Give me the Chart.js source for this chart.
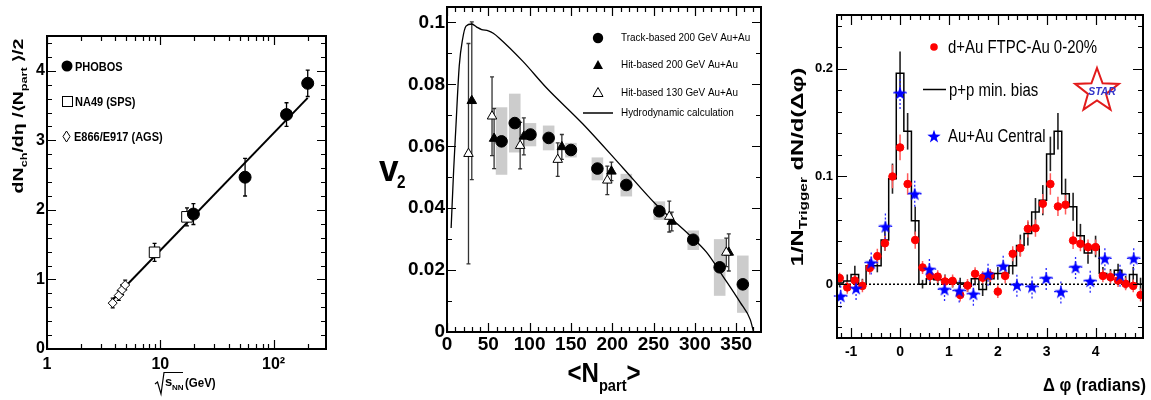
<!DOCTYPE html>
<html>
<head>
<meta charset="utf-8">
<title>Multiplicity, v2 and azimuthal correlations</title>
<script src="https://cdn.jsdelivr.net/npm/chart.js@4.4.1/dist/chart.umd.min.js"></script>
<style>
    html, body { margin: 0; padding: 0; background: #fff; }
    #page { position: relative; width: 1151px; height: 400px; overflow: hidden; }
    canvas { position: absolute; top: 0; }
</style>
</head>
<body>
<div id="page">
    <canvas id="c1" width="340" height="400" style="left:0px"></canvas>
    <canvas id="c2" width="410" height="400" style="left:370px"></canvas>
    <canvas id="c3" width="371" height="400" style="left:780px"></canvas>
</div>
<script>
// === Panel 1: dNch/deta per participant pair vs sqrt(sNN) ===
const phobosEnergy = [19.6, 56, 130, 200];
const phobosValue = [1.94, 2.47, 3.37, 3.82];
const phobosErr = [0.15, 0.27, 0.17, 0.19];
const na49Energy = [8.9, 17.2];
const na49Value = [1.39, 1.90];
const na49Err = [0.13, 0.13];
const agsEnergy = [3.8, 4.3, 4.6, 4.9];
const agsValue = [0.66, 0.77, 0.85, 0.92];
const agsErr = [0.07, 0.07, 0.07, 0.07];
const fitEnergy = [3.7, 200];
const fitValue = [0.69, 3.61];

// === Panel 2: v2 vs <Npart> ===
const trackNpart = [66, 82, 101, 123, 150, 182, 217, 257, 298, 330, 358];
const trackV2 = [0.0616, 0.0675, 0.0638, 0.0627, 0.0588, 0.0528, 0.0475, 0.039, 0.0298, 0.0209, 0.0154];
const trackSysLo = [0.0508, 0.058, 0.060, 0.0587, 0.0564, 0.049, 0.0438, 0.0362, 0.0265, 0.0117, 0.0062];
const trackSysHi = [0.0726, 0.077, 0.0675, 0.0667, 0.0611, 0.0564, 0.0511, 0.0422, 0.0328, 0.030, 0.0247];
const hit200Npart = [30, 57, 93, 139, 199, 272, 341];
const hit200V2 = [0.0747, 0.0625, 0.0632, 0.0598, 0.0519, 0.0357, 0.0257];
const hit200Err = [0.0255, 0.0097, 0.006, 0.004, 0.003, 0.003, 0.006];
const hit130Npart = [26, 54.5, 88.5, 134, 194, 269, 338];
const hit130V2 = [0.0576, 0.0697, 0.0602, 0.0557, 0.049, 0.0373, 0.0257];
const hit130Err = [0.0356, 0.0127, 0.0075, 0.0054, 0.0046, 0.005, 0.0046];
const hydroNpart = [5, 8, 10.6, 14.8, 18.8, 23, 30, 36, 42, 50, 56, 63, 91.6, 120, 164.5, 213, 253, 294, 314, 334, 355, 367, 371];
const hydroV2 = [0.0336, 0.052, 0.0654, 0.0859, 0.0945, 0.0988, 0.0995, 0.0985, 0.0977, 0.0973, 0.0965, 0.095, 0.0875, 0.079, 0.0672, 0.053, 0.0412, 0.0312, 0.0258, 0.018, 0.0095, 0.004, 0];

// === Panel 3: azimuthal correlations ===
const dphiBins = [-1.235, -1.08, -0.925, -0.77, -0.62, -0.465, -0.31, -0.155, 0, 0.155, 0.31, 0.46, 0.615, 0.77,
    0.92, 1.075, 1.23, 1.38, 1.535, 1.69, 1.845, 2.0, 2.15, 2.305, 2.46, 2.615, 2.77, 2.92, 3.075, 3.23, 3.385,
    3.54, 3.69, 3.845, 4.0, 4.15, 4.305, 4.46, 4.615, 4.77, 4.92];
const dAuYield = [0.0056, -0.003, 0.0034, -0.0016, 0.015, 0.026, 0.038, 0.100, 0.127, 0.093, 0.041, 0.0155, 0.0077,
    0.007, 0.0025, 0.003, -0.010, -0.0013, 0.0096, 0.006, 0.008, -0.0069, 0.0077, 0.0282, 0.0335, 0.0514, 0.052,
    0.0747, 0.093, 0.0722, 0.0738, 0.0406, 0.0375, 0.0344, 0.0344, 0.0077, 0.0065, 0.0034, 0.0003, -0.0016, -0.010];
const dAuErr = [0.005, 0.006, 0.006, 0.006, 0.006, 0.007, 0.007, 0.011, 0.012, 0.010, 0.008, 0.006, 0.006, 0.006,
    0.006, 0.006, 0.006, 0.006, 0.006, 0.006, 0.006, 0.006, 0.007, 0.007, 0.008, 0.008, 0.008, 0.009, 0.010, 0.009,
    0.009, 0.008, 0.007, 0.007, 0.007, 0.006, 0.006, 0.006, 0.006, 0.006, 0.006];
const ppYield = [0.001, 0.003, 0.009, 0.0, 0.017, 0.017, 0.041, 0.098, 0.196, 0.142, 0.059, 0.0, 0.005, 0.004,
    0.004, 0.002, 0.001, -0.002, 0.005, -0.005, 0.005, 0.010, 0.010, 0.017, 0.036, 0.047, 0.067, 0.078, 0.121,
    0.142, 0.084, 0.072, 0.045, 0.029, 0.035, 0.010, 0.008, 0.013, 0.0015, 0.009, 0.0];
const ppErr = [0.004, 0.006, 0.008, 0.005, 0.006, 0.006, 0.010, 0.014, 0.020, 0.017, 0.013, 0.004, 0.005, 0.005,
    0.005, 0.005, 0.005, 0.005, 0.006, 0.006, 0.006, 0.006, 0.006, 0.008, 0.010, 0.011, 0.013, 0.014, 0.016,
    0.017, 0.014, 0.013, 0.011, 0.010, 0.010, 0.006, 0.006, 0.006, 0.006, 0.007, 0.006];
const dphiStar = [-1.215, -0.9, -0.59, -0.30, 0, 0.30, 0.60, 0.91, 1.21, 1.50, 1.80, 2.11, 2.39, 2.70, 2.99, 3.29,
    3.59, 3.89, 4.19, 4.5, 4.78];
const auauYield = [-0.011, -0.0037, 0.020, 0.0536, 0.1777, 0.084, 0.014, -0.0047, -0.006, -0.009, 0.0096, 0.017,
    -0.0007, -0.0022, 0.0056, -0.0069, 0.0158, 0.003, 0.024, 0.0087, 0.024];
const auauErr = [0.011, 0.011, 0.011, 0.012, 0.015, 0.012, 0.011, 0.011, 0.011, 0.011, 0.011, 0.011, 0.011, 0.011,
    0.011, 0.011, 0.011, 0.011, 0.011, 0.011, 0.011];

const FONT = '"Liberation Sans", Arial, Helvetica, sans-serif';

Chart.defaults.font.family = FONT;
Chart.defaults.color = '#000';
Chart.defaults.animation = false;
Chart.defaults.responsive = false;
Chart.defaults.devicePixelRatio = 1;
Chart.defaults.plugins.legend.display = false;
Chart.defaults.plugins.tooltip.enabled = false;

// === Helpers ===

const pts = (xs, ys) => xs.map((x, i) => ({ x: x, y: ys[i] }));

function steps(a, b, d) {
    const out = [];
    for (let v = a; v <= b + d / 1000; v += d) out.push(+v.toFixed(4));
    return out;
}

function text(ctx, str, x, y, o = {}) {
    ctx.save();
    ctx.translate(x, y);
    if (o.rot) ctx.rotate(o.rot);
    ctx.scale(o.sx || 1, 1);
    ctx.font = `${o.style || ''} ${o.weight || 'normal'} ${o.size || 12}px ${FONT}`;
    ctx.fillStyle = o.color || '#000';
    ctx.textAlign = o.align || 'left';
    ctx.textBaseline = o.base || 'alphabetic';
    ctx.fillText(str, 0, 0);
    ctx.restore();
}

// parts: [string, font size, baseline shift]
function richText(ctx, parts, x, y, o = {}) {
    const weight = o.weight || 'bold';
    ctx.save();
    let w = 0;
    parts.forEach(([s, size]) => {
        ctx.font = `${weight} ${size}px ${FONT}`;
        w += ctx.measureText(s).width;
    });
    ctx.translate(x, y);
    if (o.rot) ctx.rotate(o.rot);
    ctx.scale(o.sx || 1, 1);
    let cx = o.align === 'center' ? -w / 2 : (o.align === 'right' ? -w : 0);
    ctx.fillStyle = '#000';
    ctx.textBaseline = 'alphabetic';
    parts.forEach(([s, size, dy]) => {
        ctx.font = `${weight} ${size}px ${FONT}`;
        ctx.fillText(s, cx, dy || 0);
        cx += ctx.measureText(s).width;
    });
    ctx.restore();
}

function errBars(chart, xs, ys, es, o = {}) {
    const { ctx, scales: { x, y } } = chart;
    ctx.save();
    ctx.strokeStyle = o.color || '#000';
    ctx.lineWidth = o.width || 1;
    if (o.dash) ctx.setLineDash(o.dash);
    xs.forEach((xv, i) => {
        const px = x.getPixelForValue(xv);
        const y0 = y.getPixelForValue(ys[i] - es[i]);
        const y1 = y.getPixelForValue(ys[i] + es[i]);
        ctx.beginPath();
        ctx.moveTo(px, y0);
        ctx.lineTo(px, y1);
        if (o.cap) {
            ctx.moveTo(px - o.cap, y0); ctx.lineTo(px + o.cap, y0);
            ctx.moveTo(px - o.cap, y1); ctx.lineTo(px + o.cap, y1);
        }
        if (o.xErr) {
            const py = y.getPixelForValue(ys[i]);
            ctx.moveTo(x.getPixelForValue(xv - o.xErr), py);
            ctx.lineTo(x.getPixelForValue(xv + o.xErr), py);
        }
        ctx.stroke();
    });
    ctx.restore();
}

function starPath(ctx, cx, cy, R, r) {
    ctx.beginPath();
    for (let i = 0; i < 10; i++) {
        const rad = i % 2 ? r : R;
        const a = -Math.PI / 2 + i * Math.PI / 5;
        ctx.lineTo(cx + rad * Math.cos(a), cy + rad * Math.sin(a));
    }
    ctx.closePath();
}

function makeStar(size, color) {
    const c = document.createElement('canvas');
    c.width = c.height = size;
    const g = c.getContext('2d');
    starPath(g, size / 2, size / 2 + 0.8, size / 2, size * 0.2);
    g.fillStyle = color;
    g.fill();
    return c;
}

const blueStar = makeStar(14, '#0000ff');

function axis(o, vertical) {
    return {
        type: o.type || 'linear',
        min: o.min,
        max: o.max,
        grid: { display: false, drawTicks: false },
        border: { display: false },
        ticks: {
            font: { size: o.size, weight: o.weight || 'bold' },
            padding: o.pad,
            maxRotation: 0,
            autoSkip: false,
            callback: o.fmt || (v => String(v))
        },
        afterBuildTicks: s => { s.ticks = o.ticks.map(v => ({ value: v })); },
        afterFit: s => {
            if (vertical) s.width = o.fit; else s.height = o.fit;
            s.paddingTop = s.paddingBottom = s.paddingLeft = s.paddingRight = 0;
        }
    };
}

// ROOT style frame: inward ticks on all four sides
const rootFrame = {
    id: 'rootFrame',
    afterDraw(chart, args, o) {
        if (!o || !o.xMajor) return;
        const { ctx, chartArea: a, scales: { x, y } } = chart;
        ctx.save();
        ctx.strokeStyle = '#000';
        ctx.lineWidth = o.tickWidth || 1.2;
        ctx.beginPath();
        [[o.xMajor, o.major], [o.xMinor, o.minor]].forEach(([vals, len]) => vals.forEach(v => {
            const px = Math.round(x.getPixelForValue(v)) + 0.5;
            if (px < a.left || px > a.right) return;
            ctx.moveTo(px, a.bottom); ctx.lineTo(px, a.bottom - len);
            ctx.moveTo(px, a.top); ctx.lineTo(px, a.top + len);
        }));
        [[o.yMajor, o.major], [o.yMinor, o.minor]].forEach(([vals, len]) => vals.forEach(v => {
            const py = Math.round(y.getPixelForValue(v)) + 0.5;
            if (py < a.top || py > a.bottom) return;
            ctx.moveTo(a.left, py); ctx.lineTo(a.left + len, py);
            ctx.moveTo(a.right, py); ctx.lineTo(a.right - len, py);
        }));
        ctx.stroke();
        ctx.lineWidth = o.frame || 2;
        ctx.strokeRect(a.left, a.top, a.right - a.left, a.bottom - a.top);
        ctx.restore();
    }
};
Chart.register(rootFrame);

// === Panel 1 ===

const panel1Decor = {
    id: 'panel1Decor',
    beforeDatasetsDraw(chart) {
        errBars(chart, phobosEnergy, phobosValue, phobosErr, { width: 1.3, cap: 2 });
        errBars(chart, na49Energy, na49Value, na49Err, { width: 1.3, cap: 2 });
        errBars(chart, agsEnergy, agsValue, agsErr, { width: 1.3, cap: 2 });
    },
    afterDraw(chart) {
        const ctx = chart.ctx;
        // legend
        ctx.save();
        ctx.fillStyle = '#000';
        ctx.beginPath(); ctx.arc(67, 66, 5.5, 0, Math.PI * 2); ctx.fill();
        ctx.strokeStyle = '#000'; ctx.lineWidth = 1;
        ctx.strokeRect(62.5, 96.5, 10, 10);
        ctx.beginPath();
        ctx.moveTo(66.5, 131); ctx.lineTo(70, 136.5); ctx.lineTo(66.5, 142); ctx.lineTo(63, 136.5); ctx.closePath();
        ctx.stroke();
        ctx.restore();
        text(ctx, 'PHOBOS', 75, 71, { size: 12.5, weight: 'bold', sx: 0.88 });
        text(ctx, 'NA49 (SPS)', 75, 106, { size: 12.5, weight: 'bold', sx: 0.88 });
        text(ctx, 'E866/E917 (AGS)', 74, 141, { size: 12.5, weight: 'bold', sx: 0.88 });

        // y title
        richText(ctx, [['dN', 14], ['ch', 9, 4], ['/d\u03b7 /\u27e8N', 14], ['part', 9, 4], [' \u27e9/2', 14]],
            23, 116, { rot: -Math.PI / 2, align: 'center', sx: 1.4 });

        // x title with radical sign
        ctx.save();
        ctx.strokeStyle = '#000';
        ctx.lineWidth = 1.2;
        ctx.beginPath();
        ctx.moveTo(155, 384); ctx.lineTo(157.5, 382); ctx.lineTo(161, 394); ctx.lineTo(164, 372.5); ctx.lineTo(183, 372.5);
        ctx.stroke();
        ctx.restore();
        text(ctx, 's', 165, 386, { size: 13, weight: 'bold' });
        text(ctx, 'NN', 172, 390, { size: 8, weight: 'bold' });
        text(ctx, '(GeV)', 185, 387, { size: 12.5, weight: 'bold', sx: 0.92 });
    }
};

new Chart(document.getElementById('c1'), {
    type: 'scatter',
    data: {
        datasets: [
            { data: pts(phobosEnergy, phobosValue), pointStyle: 'circle', pointRadius: 6,
              backgroundColor: '#000', borderColor: '#000' },
            { data: pts(na49Energy, na49Value), pointStyle: 'rect', pointRadius: 7.5,
              backgroundColor: '#fff', borderColor: '#000', borderWidth: 1 },
            { data: pts(agsEnergy, agsValue), pointStyle: 'rectRot', pointRadius: 4.5,
              backgroundColor: '#fff', borderColor: '#000', borderWidth: 1 },
            { type: 'line', data: pts(fitEnergy, fitValue), borderColor: '#000', borderWidth: 2, pointRadius: 0 }
        ]
    },
    options: {
        layout: { padding: { left: 0, right: 14, top: 36, bottom: 0 } },
        scales: {
            x: axis({ type: 'logarithmic', min: 1, max: 290, ticks: [1, 10, 100], size: 16, pad: 6, fit: 51,
                      fmt: v => (v === 100 ? '10\u00b2' : String(v)) }),
            y: axis({ min: 0, max: 4.5, ticks: [0, 1, 2, 3, 4], size: 16, pad: 2, fit: 47 }, true)
        },
        plugins: {
            rootFrame: {
                xMajor: [1, 10, 100],
                xMinor: [2, 3, 4, 5, 6, 7, 8, 9, 20, 30, 40, 50, 60, 70, 80, 90, 200],
                yMajor: steps(0, 4, 1), yMinor: steps(0, 4.4, 0.2),
                major: 9, minor: 5, frame: 2
            }
        }
    },
    plugins: [panel1Decor]
});

// === Panel 2 ===

const panel2Decor = {
    id: 'panel2Decor',
    beforeDatasetsDraw(chart) {
        const { ctx, scales: { x, y } } = chart;
        ctx.save();
        ctx.fillStyle = '#cccccc';
        trackNpart.forEach((n, i) => {
            const l = x.getPixelForValue(n - 7), r = x.getPixelForValue(n + 7);
            const t = y.getPixelForValue(trackSysHi[i]), b = y.getPixelForValue(trackSysLo[i]);
            ctx.fillRect(l, t, r - l, b - t);
        });
        ctx.restore();
        errBars(chart, hit130Npart, hit130V2, hit130Err, { width: 1.3, cap: 2, color: '#333' });
        errBars(chart, hit200Npart, hit200V2, hit200Err, { width: 1.3, cap: 2, color: '#333' });
    },
    afterDraw(chart) {
        const ctx = chart.ctx;
        const ox = -370;
        ctx.save();
        ctx.fillStyle = '#000';
        ctx.beginPath(); ctx.arc(598 + ox, 38, 5.2, 0, Math.PI * 2); ctx.fill();
        ctx.beginPath();
        ctx.moveTo(598 + ox, 60); ctx.lineTo(603 + ox, 69); ctx.lineTo(593 + ox, 69); ctx.closePath(); ctx.fill();
        ctx.strokeStyle = '#000'; ctx.lineWidth = 1;
        ctx.beginPath();
        ctx.moveTo(598 + ox, 87.5); ctx.lineTo(603 + ox, 96.5); ctx.lineTo(593 + ox, 96.5); ctx.closePath(); ctx.stroke();
        ctx.lineWidth = 1.5;
        ctx.beginPath(); ctx.moveTo(583 + ox, 113); ctx.lineTo(613 + ox, 113); ctx.stroke();
        ctx.restore();
        const lg = { size: 11, sx: 0.9, base: 'middle' };
        text(ctx, 'Track-based 200 GeV Au+Au', 621 + ox, 38, lg);
        text(ctx, 'Hit-based 200 GeV Au+Au', 621 + ox, 65, lg);
        text(ctx, 'Hit-based 130 GeV Au+Au', 621 + ox, 93, lg);
        text(ctx, 'Hydrodynamic calculation', 621 + ox, 113, lg);

        // axis titles
        text(ctx, 'v', 379 + ox, 181, { size: 37, weight: 'bold', sx: 0.95 });
        text(ctx, '2', 397 + ox, 188, { size: 18, weight: 'bold', sx: 0.85 });
        richText(ctx, [['<N', 28], ['part', 17, 9], ['>', 28]], 604 + ox, 382, { align: 'center', sx: 0.86 });
    }
};

new Chart(document.getElementById('c2'), {
    type: 'scatter',
    data: {
        datasets: [
            { data: pts(hit130Npart, hit130V2), pointStyle: 'triangle', pointRadius: 5.5,
              backgroundColor: '#fff', borderColor: '#000', borderWidth: 1 },
            { data: pts(hit200Npart, hit200V2), pointStyle: 'triangle', pointRadius: 5.5,
              backgroundColor: '#000', borderColor: '#000', borderWidth: 1 },
            { data: pts(trackNpart, trackV2), pointStyle: 'circle', pointRadius: 5.8,
              backgroundColor: '#000', borderColor: '#000' },
            { type: 'line', data: pts(hydroNpart, hydroV2), borderColor: '#000', borderWidth: 1.3,
              pointRadius: 0, cubicInterpolationMode: 'monotone' }
        ]
    },
    options: {
        layout: { padding: { left: 0, right: 19, top: 7, bottom: 0 } },
        scales: {
            x: axis({ min: 0, max: 380, ticks: steps(0, 350, 50), size: 19, pad: 1, fit: 68 }),
            y: axis({ min: 0, max: 0.105, ticks: steps(0, 0.1, 0.02), size: 19, pad: 2, fit: 77,
                      fmt: v => (v === 0 ? '0' : (Math.abs(v - 0.1) < 1e-9 ? '0.1' : v.toFixed(2))) }, true)
        },
        plugins: {
            rootFrame: {
                xMajor: steps(0, 350, 50), xMinor: steps(0, 380, 10),
                yMajor: steps(0, 0.1, 0.02), yMinor: steps(0, 0.1, 0.01),
                major: 9, minor: 5, frame: 2
            }
        }
    },
    plugins: [panel2Decor]
});

// === Panel 3 ===

const X3_MIN = -1.29, X3_MAX = 4.97;

const panel3Decor = {
    id: 'panel3Decor',
    beforeDatasetsDraw(chart) {
        errBars(chart, dphiBins, ppYield, ppErr, { width: 1.6, color: '#222' });
        errBars(chart, dphiBins, dAuYield, dAuErr, { width: 1.5, color: '#ff5a5a', xErr: 0.05 });
        errBars(chart, dphiStar, auauYield, auauErr, { width: 1.3, color: '#2a2aff', dash: [2, 2], xErr: 0.14 });
    },
    afterDraw(chart) {
        const ctx = chart.ctx;
        const ox = -780;
        ctx.save();
        ctx.fillStyle = '#ff0000';
        ctx.beginPath(); ctx.arc(934 + ox, 47, 3.8, 0, Math.PI * 2); ctx.fill();
        ctx.strokeStyle = '#000'; ctx.lineWidth = 1.5;
        ctx.beginPath(); ctx.moveTo(923 + ox, 89.5); ctx.lineTo(946 + ox, 89.5); ctx.stroke();
        ctx.drawImage(blueStar, 934 + ox - 7, 136 - 7);

        // STAR logo
        starPath(ctx, 1097 + ox, 91, 23, 9.5);
        ctx.strokeStyle = '#e21b1b'; ctx.lineWidth = 2;
        ctx.stroke();
        ctx.restore();
        text(ctx, 'STAR', 1102 + ox, 92, { size: 11, weight: 'bold', style: 'italic', color: '#3434c8',
            align: 'center', base: 'middle', sx: 0.95 });

        const lg = { size: 18, sx: 0.83 };
        text(ctx, 'd+Au FTPC-Au 0-20%', 948 + ox, 53, lg);
        text(ctx, 'p+p min. bias', 949 + ox, 96, lg);
        text(ctx, 'Au+Au Central', 948 + ox, 142, lg);

        richText(ctx, [['1/N', 17], ['Trigger', 11, 4], [' dN/d(\u0394\u03c6)', 17]],
            803 + ox, 167, { rot: -Math.PI / 2, align: 'center', sx: 1.4 });
        text(ctx, '\u0394 \u03c6 (radians)', 1146 + ox, 391, { size: 18, weight: 'bold', align: 'right', sx: 0.92 });
    }
};

const ppSteps = [{ x: X3_MIN, y: ppYield[0] }]
    .concat(pts(dphiBins, ppYield))
    .concat([{ x: X3_MAX, y: ppYield[ppYield.length - 1] }]);

new Chart(document.getElementById('c3'), {
    type: 'scatter',
    data: {
        datasets: [
            { data: pts(dphiStar, auauYield), pointStyle: blueStar, pointRadius: 7 },
            { data: pts(dphiBins, dAuYield), pointStyle: 'circle', pointRadius: 3.8,
              backgroundColor: '#ff0000', borderColor: '#ff0000' },
            { type: 'line', data: ppSteps, stepped: 'middle', borderColor: '#000', borderWidth: 1.5, pointRadius: 0 },
            { type: 'line', data: [{ x: X3_MIN, y: 0 }, { x: X3_MAX, y: 0 }], borderColor: '#000',
              borderWidth: 1.5, borderDash: [2, 2], pointRadius: 0 }
        ]
    },
    options: {
        layout: { padding: { left: 0, right: 4, top: 15, bottom: 0 } },
        scales: {
            x: axis({ min: X3_MIN, max: X3_MAX, ticks: [-1, 0, 1, 2, 3, 4], size: 14, pad: 6, fit: 62 }),
            y: axis({ min: -0.05, max: 0.25, ticks: [0, 0.1, 0.2], size: 13, pad: 4, fit: 57,
                      fmt: v => (v === 0 ? '0' : v.toFixed(1)) }, true)
        },
        plugins: {
            rootFrame: {
                xMajor: steps(-1, 4, 1), xMinor: steps(-1.2, 4.8, 0.2),
                yMajor: [0, 0.1, 0.2], yMinor: steps(-0.04, 0.24, 0.02),
                major: 10, minor: 5, frame: 2
            }
        }
    },
    plugins: [panel3Decor]
});
</script>
</body>
</html>
